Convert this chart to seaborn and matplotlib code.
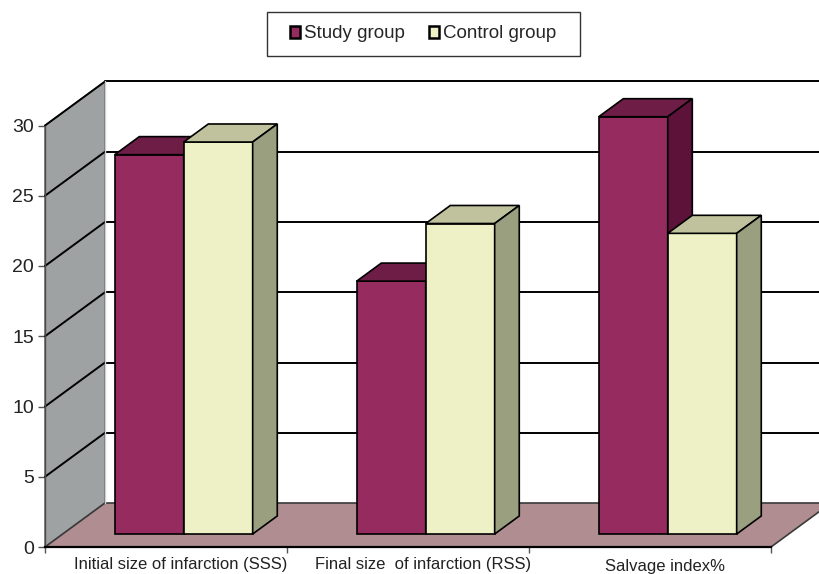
import matplotlib
matplotlib.use("Agg")
import matplotlib.pyplot as plt
import seaborn as sns
import pandas as pd
from matplotlib.patches import Polygon, Patch, Rectangle
from matplotlib.transforms import ScaledTranslation

categories = ["Initial size of infarction (SSS)", "Final size  of infarction (RSS)", "Salvage index%"]
groups = ["Study group", "Control group"]
study_values = [27.0, 18.0, 29.7]
control_values = [27.9, 22.1, 21.4]
yticks = [0, 5, 10, 15, 20, 25, 30]

front_colors = ["#952B5F", "#EEF0C5"]
top_colors = ["#6E1D47", "#BFC29C"]
side_colors = ["#5C1239", "#9A9F80"]
wall_color = "#9FA2A3"
floor_color = "#B08D90"

df = pd.DataFrame({
    "category": categories * 2,
    "group": [groups[0]] * 3 + [groups[1]] * 3,
    "value": study_values + control_values,
})

sns.set_style("white")
plt.rcParams["font.family"] = ["Liberation Sans", "DejaVu Sans"]

W, H = 819, 574
fig = plt.figure(figsize=(W / 100, H / 100), dpi=100)
left_px, right_px, zero_px, ppu = 45, 771, 547, 14.05
ymax = 33.5
ax = fig.add_axes([left_px / W, (H - zero_px) / H, (right_px - left_px) / W, ymax * ppu / H])

sns.barplot(data=df, x="category", y="value", hue="group", hue_order=groups, order=categories,
            palette=front_colors, width=0.57, saturation=1, edgecolor="black", linewidth=1.2,
            errorbar=None, legend=False, ax=ax)
ax.set_xlim(-0.5, 2.5)
ax.set_ylim(0, ymax)

cat_px = (right_px - left_px) / 3
DX = 60 / cat_px
DY = 44 / ppu
f0, f1 = 0.295, 0.705

# walls and floor
ax.add_patch(Polygon([(-0.5, 0), (-0.5, 30), (-0.5 + DX, 30 + DY), (-0.5 + DX, DY)],
                     closed=True, fc=wall_color, ec="#5a5a5a", lw=1.0, zorder=0.5, clip_on=False))
ax.add_patch(Polygon([(-0.5, 0), (2.5, 0), (2.5 + DX, DY), (-0.5 + DX, DY)],
                     closed=True, fc=floor_color, ec="#3a3a3a", lw=1.2, zorder=0.6, clip_on=False))
for v in yticks[1:]:
    ax.plot([-0.5 + DX, 2.5 + DX], [v + DY, v + DY], color="black", lw=1.4, zorder=0.4, clip_on=False)
    ax.plot([-0.5, -0.5 + DX], [v, v + DY], color="black", lw=1.4, zorder=0.7, clip_on=False)
ax.plot([-0.5 + DX, -0.5 + DX], [DY, 30 + DY], color="#d0d0d0", lw=1.0, zorder=0.7, clip_on=False)

# bars: shift front faces into depth and add top/side faces
bx, by = (f1 - f0) * DX, (f1 - f0) * DY
for p in list(ax.patches):
    if not hasattr(p, "get_width") or p.get_height() <= 0:
        continue
    if p.get_y() != 0:
        continue
    x0, w, h = p.get_x(), p.get_width(), p.get_height()
    cx = x0 + w / 2
    gi = 0 if cx < round(cx) else 1
    z = 3 + gi
    xs, ys = x0 + f0 * DX, f0 * DY
    p.set_x(xs)
    p.set_y(ys)
    p.set_zorder(z)
    ax.add_patch(Polygon([(xs, ys + h), (xs + w, ys + h), (xs + w + bx, ys + h + by), (xs + bx, ys + h + by)],
                         closed=True, fc=top_colors[gi], ec="black", lw=1.2, zorder=z))
    ax.add_patch(Polygon([(xs + w, ys), (xs + w + bx, ys + by), (xs + w + bx, ys + h + by), (xs + w, ys + h)],
                         closed=True, fc=side_colors[gi], ec="black", lw=1.2, zorder=z))

# axes styling
for s in ["top", "right"]:
    ax.spines[s].set_visible(False)
ax.spines["left"].set_bounds(0, 30)
ax.spines["left"].set_color("#4a4a4a")
ax.spines["left"].set_linewidth(1.0)
ax.spines["left"].set_zorder(0.8)
ax.spines["bottom"].set_color("black")
ax.spines["bottom"].set_linewidth(1.6)
ax.spines["bottom"].set_zorder(0.9)

ax.set_yticks(yticks)
ax.set_yticklabels([str(t) for t in yticks])
ax.tick_params(axis="y", left=True, length=5, width=1, direction="out", color="#555555",
               labelsize=14, pad=3, labelcolor="#222222")
ax.set_xticks(range(len(categories)))
ax.set_xticks([-0.5, 0.5, 1.5, 2.5], minor=True)
ax.tick_params(axis="x", which="major", length=0, pad=7, labelsize=12, labelcolor="#222222")
ax.tick_params(axis="x", which="minor", bottom=True, length=4, width=1, direction="out", color="#555555")
ax.set_xlabel("")
ax.set_ylabel("")
for i, lbl in enumerate(ax.get_xticklabels()):
    dy = -2 / 100 if i == 2 else 0
    lbl.set_transform(lbl.get_transform() + ScaledTranslation(15 / 100, dy, fig.dpi_scale_trans))

# legend
handles = [Patch(fc=c, ec="black", lw=1.8) for c in front_colors]
leg = fig.legend(handles, groups, loc="center", bbox_to_anchor=(423 / W, 1 - 34 / H), ncol=2,
                 frameon=False, fontsize=13.5,
                 handlelength=0.55, handleheight=0.55, handletextpad=0.2, columnspacing=1.3)
fig.patches.append(Rectangle((267 / W, 1 - 56 / H), (580 - 267) / W, 44 / H, transform=fig.transFigure,
                             fill=False, ec="#333333", lw=1.0, zorder=5))

fig.savefig("out.png", dpi=100)
